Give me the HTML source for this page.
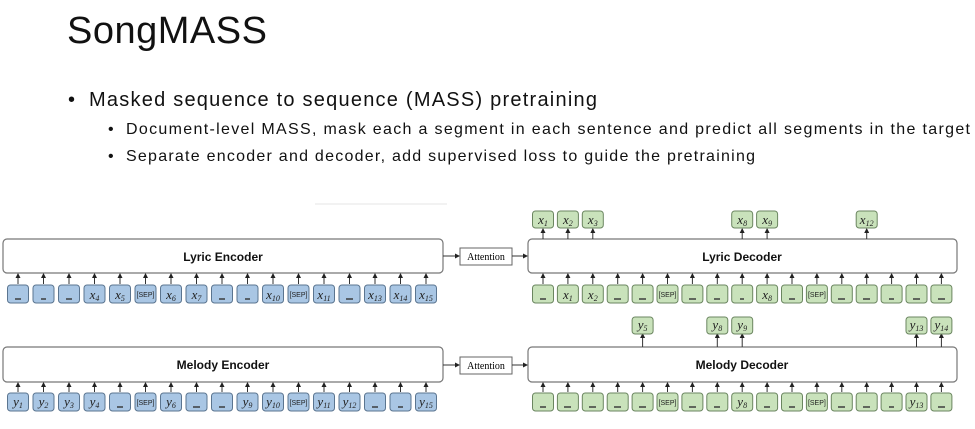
<!DOCTYPE html>
<html><head><meta charset="utf-8"><style>
html,body{margin:0;padding:0;background:#fff;}
svg{display:block}
.t{font-family:"Liberation Sans",sans-serif;fill:#111}
.v{font-family:"Liberation Serif",serif;font-style:italic;font-size:13px;fill:#222}
.s{font-size:8px}
.sep{font-family:"Liberation Sans",sans-serif;font-size:7px;fill:#222}
.b{fill:#a9c6e4;stroke:#5b7590;stroke-width:1}
.g{fill:#c9e2bb;stroke:#6b8660;stroke-width:1}
.box{fill:#fff;stroke:#777;stroke-width:1.2}
.ln{stroke:#333;stroke-width:1}
.bl{stroke:#333;stroke-width:1.4}
</style></head><body>
<svg width="975" height="429" viewBox="0 0 975 429" xmlns="http://www.w3.org/2000/svg">
<defs><marker id="a" markerWidth="5" markerHeight="5" refX="4" refY="2.5" orient="auto"><path d="M0,0 L5,2.5 L0,5z" fill="#222"/></marker></defs>
<text class="t" x="67" y="43" font-size="38" textLength="200">SongMASS</text>
<text class="t" x="68" y="106" font-size="20">•</text>
<text class="t" x="89" y="106" font-size="20" textLength="508">Masked sequence to sequence (MASS) pretraining</text>
<text class="t" x="108" y="134" font-size="16">•</text>
<text class="t" x="126" y="134" font-size="16" textLength="844">Document-level MASS, mask each a segment in each sentence and predict all segments in the target</text>
<text class="t" x="108" y="161" font-size="16">•</text>
<text class="t" x="126" y="161" font-size="16" textLength="629">Separate encoder and decoder, add supervised loss to guide the pretraining</text>
<line x1="315" y1="204" x2="447" y2="204" stroke="#e4e4e4"/>

<!-- boxes -->
<rect class="box" x="3" y="239" width="440" height="34" rx="4"/>
<text class="t" x="223" y="261" font-size="12" font-weight="bold" text-anchor="middle">Lyric Encoder</text>
<rect class="box" x="3" y="347" width="440" height="35" rx="4"/>
<text class="t" x="223" y="369" font-size="12" font-weight="bold" text-anchor="middle">Melody Encoder</text>
<rect class="box" x="528" y="239" width="429" height="34" rx="4"/>
<text class="t" x="742" y="261" font-size="12" font-weight="bold" text-anchor="middle">Lyric Decoder</text>
<rect class="box" x="528" y="347" width="429" height="35" rx="4"/>
<text class="t" x="742" y="369" font-size="12" font-weight="bold" text-anchor="middle">Melody Decoder</text>
<rect x="460" y="248" width="52" height="17" fill="#fff" stroke="#666"/>
<text x="486" y="260" font-family="Liberation Serif,serif" font-size="10" text-anchor="middle">Attention</text>
<rect x="460" y="357" width="52" height="17" fill="#fff" stroke="#666"/>
<text x="486" y="369" font-family="Liberation Serif,serif" font-size="10" text-anchor="middle">Attention</text>
<g class="ln" marker-end="url(#a)">
<line x1="443" y1="256" x2="459" y2="256"/><line x1="512" y1="256" x2="527" y2="256"/>
<line x1="443" y1="365" x2="459" y2="365"/><line x1="512" y1="365" x2="527" y2="365"/>
</g>

<!-- Lyric encoder tokens -->
<g class="ln" marker-end="url(#a)">
<line x1="18" y1="284" x2="18" y2="274"/><line x1="43.5" y1="284" x2="43.5" y2="274"/><line x1="69" y1="284" x2="69" y2="274"/><line x1="94.5" y1="284" x2="94.5" y2="274"/><line x1="120" y1="284" x2="120" y2="274"/><line x1="145.5" y1="284" x2="145.5" y2="274"/><line x1="171" y1="284" x2="171" y2="274"/><line x1="196.5" y1="284" x2="196.5" y2="274"/><line x1="222" y1="284" x2="222" y2="274"/><line x1="247.5" y1="284" x2="247.5" y2="274"/><line x1="273" y1="284" x2="273" y2="274"/><line x1="298.5" y1="284" x2="298.5" y2="274"/><line x1="324" y1="284" x2="324" y2="274"/><line x1="349.5" y1="284" x2="349.5" y2="274"/><line x1="375" y1="284" x2="375" y2="274"/><line x1="400.5" y1="284" x2="400.5" y2="274"/><line x1="426" y1="284" x2="426" y2="274"/>
<line x1="18" y1="392" x2="18" y2="383"/><line x1="43.5" y1="392" x2="43.5" y2="383"/><line x1="69" y1="392" x2="69" y2="383"/><line x1="94.5" y1="392" x2="94.5" y2="383"/><line x1="120" y1="392" x2="120" y2="383"/><line x1="145.5" y1="392" x2="145.5" y2="383"/><line x1="171" y1="392" x2="171" y2="383"/><line x1="196.5" y1="392" x2="196.5" y2="383"/><line x1="222" y1="392" x2="222" y2="383"/><line x1="247.5" y1="392" x2="247.5" y2="383"/><line x1="273" y1="392" x2="273" y2="383"/><line x1="298.5" y1="392" x2="298.5" y2="383"/><line x1="324" y1="392" x2="324" y2="383"/><line x1="349.5" y1="392" x2="349.5" y2="383"/><line x1="375" y1="392" x2="375" y2="383"/><line x1="400.5" y1="392" x2="400.5" y2="383"/><line x1="426" y1="392" x2="426" y2="383"/>
<line x1="543" y1="284" x2="543" y2="274"/><line x1="567.9" y1="284" x2="567.9" y2="274"/><line x1="592.8" y1="284" x2="592.8" y2="274"/><line x1="617.7" y1="284" x2="617.7" y2="274"/><line x1="642.6" y1="284" x2="642.6" y2="274"/><line x1="667.5" y1="284" x2="667.5" y2="274"/><line x1="692.4" y1="284" x2="692.4" y2="274"/><line x1="717.3" y1="284" x2="717.3" y2="274"/><line x1="742.2" y1="284" x2="742.2" y2="274"/><line x1="767.1" y1="284" x2="767.1" y2="274"/><line x1="792" y1="284" x2="792" y2="274"/><line x1="816.9" y1="284" x2="816.9" y2="274"/><line x1="841.8" y1="284" x2="841.8" y2="274"/><line x1="866.7" y1="284" x2="866.7" y2="274"/><line x1="891.6" y1="284" x2="891.6" y2="274"/><line x1="916.5" y1="284" x2="916.5" y2="274"/><line x1="941.4" y1="284" x2="941.4" y2="274"/>
<line x1="543" y1="392" x2="543" y2="383"/><line x1="567.9" y1="392" x2="567.9" y2="383"/><line x1="592.8" y1="392" x2="592.8" y2="383"/><line x1="617.7" y1="392" x2="617.7" y2="383"/><line x1="642.6" y1="392" x2="642.6" y2="383"/><line x1="667.5" y1="392" x2="667.5" y2="383"/><line x1="692.4" y1="392" x2="692.4" y2="383"/><line x1="717.3" y1="392" x2="717.3" y2="383"/><line x1="742.2" y1="392" x2="742.2" y2="383"/><line x1="767.1" y1="392" x2="767.1" y2="383"/><line x1="792" y1="392" x2="792" y2="383"/><line x1="816.9" y1="392" x2="816.9" y2="383"/><line x1="841.8" y1="392" x2="841.8" y2="383"/><line x1="866.7" y1="392" x2="866.7" y2="383"/><line x1="891.6" y1="392" x2="891.6" y2="383"/><line x1="916.5" y1="392" x2="916.5" y2="383"/><line x1="941.4" y1="392" x2="941.4" y2="383"/>
<!-- output arrows -->
<line x1="543" y1="239" x2="543" y2="229"/><line x1="567.9" y1="239" x2="567.9" y2="229"/><line x1="592.8" y1="239" x2="592.8" y2="229"/><line x1="742.2" y1="239" x2="742.2" y2="229"/><line x1="767.1" y1="239" x2="767.1" y2="229"/><line x1="866.7" y1="239" x2="866.7" y2="229"/>
<line x1="642.6" y1="347" x2="642.6" y2="334"/><line x1="717.3" y1="347" x2="717.3" y2="334"/><line x1="742.2" y1="347" x2="742.2" y2="334"/><line x1="916.5" y1="347" x2="916.5" y2="334"/><line x1="941.4" y1="347" x2="941.4" y2="334"/>
</g>

<!-- token rects: lyric encoder -->
<g class="b">
<rect x="7.5" y="285" width="21" height="18" rx="3"/><rect x="33" y="285" width="21" height="18" rx="3"/><rect x="58.5" y="285" width="21" height="18" rx="3"/><rect x="84" y="285" width="21" height="18" rx="3"/><rect x="109.5" y="285" width="21" height="18" rx="3"/><rect x="135" y="285" width="21" height="18" rx="3"/><rect x="160.5" y="285" width="21" height="18" rx="3"/><rect x="186" y="285" width="21" height="18" rx="3"/><rect x="211.5" y="285" width="21" height="18" rx="3"/><rect x="237" y="285" width="21" height="18" rx="3"/><rect x="262.5" y="285" width="21" height="18" rx="3"/><rect x="288" y="285" width="21" height="18" rx="3"/><rect x="313.5" y="285" width="21" height="18" rx="3"/><rect x="339" y="285" width="21" height="18" rx="3"/><rect x="364.5" y="285" width="21" height="18" rx="3"/><rect x="390" y="285" width="21" height="18" rx="3"/><rect x="415.5" y="285" width="21" height="18" rx="3"/>
<rect x="7.5" y="393" width="21" height="18" rx="3"/><rect x="33" y="393" width="21" height="18" rx="3"/><rect x="58.5" y="393" width="21" height="18" rx="3"/><rect x="84" y="393" width="21" height="18" rx="3"/><rect x="109.5" y="393" width="21" height="18" rx="3"/><rect x="135" y="393" width="21" height="18" rx="3"/><rect x="160.5" y="393" width="21" height="18" rx="3"/><rect x="186" y="393" width="21" height="18" rx="3"/><rect x="211.5" y="393" width="21" height="18" rx="3"/><rect x="237" y="393" width="21" height="18" rx="3"/><rect x="262.5" y="393" width="21" height="18" rx="3"/><rect x="288" y="393" width="21" height="18" rx="3"/><rect x="313.5" y="393" width="21" height="18" rx="3"/><rect x="339" y="393" width="21" height="18" rx="3"/><rect x="364.5" y="393" width="21" height="18" rx="3"/><rect x="390" y="393" width="21" height="18" rx="3"/><rect x="415.5" y="393" width="21" height="18" rx="3"/>
</g>
<g class="g">
<rect x="532.5" y="285" width="21" height="18" rx="3"/><rect x="557.4" y="285" width="21" height="18" rx="3"/><rect x="582.3" y="285" width="21" height="18" rx="3"/><rect x="607.2" y="285" width="21" height="18" rx="3"/><rect x="632.1" y="285" width="21" height="18" rx="3"/><rect x="657" y="285" width="21" height="18" rx="3"/><rect x="681.9" y="285" width="21" height="18" rx="3"/><rect x="706.8" y="285" width="21" height="18" rx="3"/><rect x="731.7" y="285" width="21" height="18" rx="3"/><rect x="756.6" y="285" width="21" height="18" rx="3"/><rect x="781.5" y="285" width="21" height="18" rx="3"/><rect x="806.4" y="285" width="21" height="18" rx="3"/><rect x="831.3" y="285" width="21" height="18" rx="3"/><rect x="856.2" y="285" width="21" height="18" rx="3"/><rect x="881.1" y="285" width="21" height="18" rx="3"/><rect x="906" y="285" width="21" height="18" rx="3"/><rect x="930.9" y="285" width="21" height="18" rx="3"/>
<rect x="532.5" y="393" width="21" height="18" rx="3"/><rect x="557.4" y="393" width="21" height="18" rx="3"/><rect x="582.3" y="393" width="21" height="18" rx="3"/><rect x="607.2" y="393" width="21" height="18" rx="3"/><rect x="632.1" y="393" width="21" height="18" rx="3"/><rect x="657" y="393" width="21" height="18" rx="3"/><rect x="681.9" y="393" width="21" height="18" rx="3"/><rect x="706.8" y="393" width="21" height="18" rx="3"/><rect x="731.7" y="393" width="21" height="18" rx="3"/><rect x="756.6" y="393" width="21" height="18" rx="3"/><rect x="781.5" y="393" width="21" height="18" rx="3"/><rect x="806.4" y="393" width="21" height="18" rx="3"/><rect x="831.3" y="393" width="21" height="18" rx="3"/><rect x="856.2" y="393" width="21" height="18" rx="3"/><rect x="881.1" y="393" width="21" height="18" rx="3"/><rect x="906" y="393" width="21" height="18" rx="3"/><rect x="930.9" y="393" width="21" height="18" rx="3"/>
<rect x="532.5" y="211" width="21" height="17" rx="3"/><rect x="557.4" y="211" width="21" height="17" rx="3"/><rect x="582.3" y="211" width="21" height="17" rx="3"/><rect x="731.7" y="211" width="21" height="17" rx="3"/><rect x="756.6" y="211" width="21" height="17" rx="3"/><rect x="856.2" y="211" width="21" height="17" rx="3"/>
<rect x="632.1" y="317" width="21" height="17" rx="3"/><rect x="706.8" y="317" width="21" height="17" rx="3"/><rect x="731.7" y="317" width="21" height="17" rx="3"/><rect x="906" y="317" width="21" height="17" rx="3"/><rect x="930.9" y="317" width="21" height="17" rx="3"/>
</g>

<!-- blanks -->
<g class="bl">
<line x1="15" y1="299" x2="21" y2="299"/><line x1="41" y1="299" x2="46" y2="299"/><line x1="66" y1="299" x2="72" y2="299"/><line x1="219" y1="299" x2="225" y2="299"/><line x1="245" y1="299" x2="250" y2="299"/><line x1="346" y1="299" x2="353" y2="299"/>
<line x1="117" y1="407" x2="123" y2="407"/><line x1="193" y1="407" x2="200" y2="407"/><line x1="219" y1="407" x2="225" y2="407"/><line x1="372" y1="407" x2="378" y2="407"/><line x1="398" y1="407" x2="403" y2="407"/>
<line x1="540" y1="299" x2="546" y2="299"/><line x1="614" y1="299" x2="621" y2="299"/><line x1="639" y1="299" x2="646" y2="299"/><line x1="689" y1="299" x2="696" y2="299"/><line x1="714" y1="299" x2="720" y2="299"/><line x1="740" y1="299" x2="744" y2="299"/><line x1="789" y1="299" x2="795" y2="299"/><line x1="838" y1="299" x2="845" y2="299"/><line x1="863" y1="299" x2="870" y2="299"/><line x1="889" y1="299" x2="894" y2="299"/><line x1="913" y1="299" x2="920" y2="299"/><line x1="938" y1="299" x2="945" y2="299"/>
<line x1="540" y1="407" x2="546" y2="407"/><line x1="564" y1="407" x2="571" y2="407"/><line x1="589" y1="407" x2="596" y2="407"/><line x1="614" y1="407" x2="621" y2="407"/><line x1="639" y1="407" x2="646" y2="407"/><line x1="689" y1="407" x2="696" y2="407"/><line x1="714" y1="407" x2="720" y2="407"/><line x1="764" y1="407" x2="770" y2="407"/><line x1="789" y1="407" x2="795" y2="407"/><line x1="838" y1="407" x2="845" y2="407"/><line x1="863" y1="407" x2="870" y2="407"/><line x1="889" y1="407" x2="894" y2="407"/><line x1="938" y1="407" x2="945" y2="407"/>
</g>

<!-- SEP labels -->
<g class="sep" text-anchor="middle">
<text x="145.5" y="297">[SEP]</text><text x="298.5" y="297">[SEP]</text>
<text x="145.5" y="405">[SEP]</text><text x="298.5" y="405">[SEP]</text>
<text x="667.5" y="297">[SEP]</text><text x="816.9" y="297">[SEP]</text>
<text x="667.5" y="405">[SEP]</text><text x="816.9" y="405">[SEP]</text>
</g>

<!-- variable labels -->
<g class="v" text-anchor="middle">
<text x="94.5" y="299">x<tspan class="s" dy="2">4</tspan></text>
<text x="120" y="299">x<tspan class="s" dy="2">5</tspan></text>
<text x="171" y="299">x<tspan class="s" dy="2">6</tspan></text>
<text x="196.5" y="299">x<tspan class="s" dy="2">7</tspan></text>
<text x="273" y="299">x<tspan class="s" dy="2">10</tspan></text>
<text x="324" y="299">x<tspan class="s" dy="2">11</tspan></text>
<text x="375" y="299">x<tspan class="s" dy="2">13</tspan></text>
<text x="400.5" y="299">x<tspan class="s" dy="2">14</tspan></text>
<text x="426" y="299">x<tspan class="s" dy="2">15</tspan></text>

<text x="18" y="406">y<tspan class="s" dy="2">1</tspan></text>
<text x="43.5" y="406">y<tspan class="s" dy="2">2</tspan></text>
<text x="69" y="406">y<tspan class="s" dy="2">3</tspan></text>
<text x="94.5" y="406">y<tspan class="s" dy="2">4</tspan></text>
<text x="171" y="406">y<tspan class="s" dy="2">6</tspan></text>
<text x="247.5" y="406">y<tspan class="s" dy="2">9</tspan></text>
<text x="273" y="406">y<tspan class="s" dy="2">10</tspan></text>
<text x="324" y="406">y<tspan class="s" dy="2">11</tspan></text>
<text x="349.5" y="406">y<tspan class="s" dy="2">12</tspan></text>
<text x="426" y="406">y<tspan class="s" dy="2">15</tspan></text>

<text x="567.9" y="299">x<tspan class="s" dy="2">1</tspan></text>
<text x="592.8" y="299">x<tspan class="s" dy="2">2</tspan></text>
<text x="767.1" y="299">x<tspan class="s" dy="2">8</tspan></text>
<text x="742.2" y="406">y<tspan class="s" dy="2">8</tspan></text>
<text x="916.5" y="406">y<tspan class="s" dy="2">13</tspan></text>

<text x="543" y="224">x<tspan class="s" dy="2">1</tspan></text>
<text x="567.9" y="224">x<tspan class="s" dy="2">2</tspan></text>
<text x="592.8" y="224">x<tspan class="s" dy="2">3</tspan></text>
<text x="742.2" y="224">x<tspan class="s" dy="2">8</tspan></text>
<text x="767.1" y="224">x<tspan class="s" dy="2">9</tspan></text>
<text x="866.7" y="224">x<tspan class="s" dy="2">12</tspan></text>

<text x="642.6" y="329">y<tspan class="s" dy="2">5</tspan></text>
<text x="717.3" y="329">y<tspan class="s" dy="2">8</tspan></text>
<text x="742.2" y="329">y<tspan class="s" dy="2">9</tspan></text>
<text x="916.5" y="329">y<tspan class="s" dy="2">13</tspan></text>
<text x="941.4" y="329">y<tspan class="s" dy="2">14</tspan></text>
</g>
</svg>
</body></html>
